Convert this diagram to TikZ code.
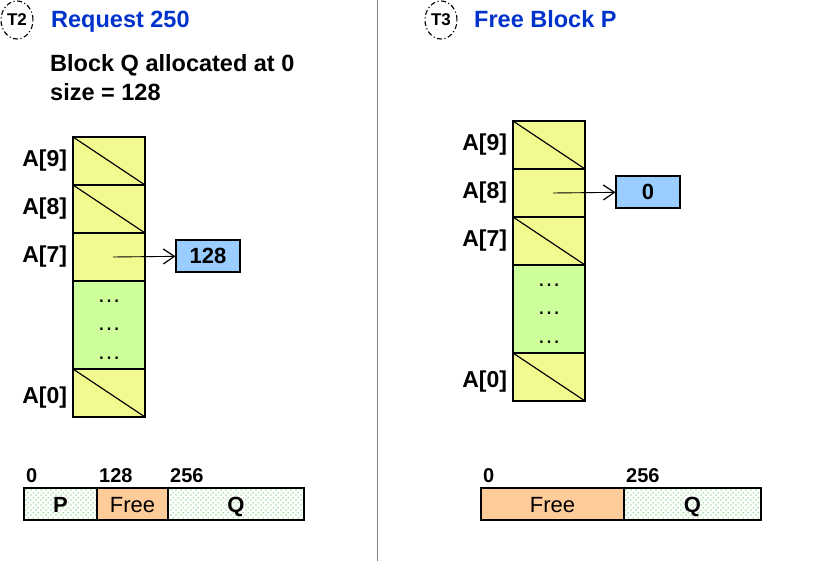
\documentclass[tikz,border=0pt]{standalone}
\usepackage{fontspec}
\setmainfont{Liberation Sans}
\usetikzlibrary{arrows.meta,matrix,positioning,patterns,shapes.geometric}
\definecolor{slotyellow}{HTML}{F2F98F}
\definecolor{gapgreen}{HTML}{CCFF99}
\definecolor{ptrblue}{HTML}{99CCFF}
\definecolor{holeorange}{HTML}{FFCC99}
\definecolor{titleblue}{HTML}{0033CC}
\definecolor{dotgreen}{HTML}{22BB22}
\pgfdeclarepatternformonly{sparse dots}{\pgfpointorigin}{\pgfqpoint{5pt}{5pt}}{\pgfqpoint{5pt}{5pt}}{
  \pgfpathcircle{\pgfqpoint{1.2pt}{1.2pt}}{0.7pt}
  \pgfpathcircle{\pgfqpoint{3.7pt}{3.7pt}}{0.7pt}
  \pgfusepath{fill}
}
\newcommand{\gapdots}{\vbox{\hbox{\strut…}\hbox{\strut…}\hbox{\strut…}}}
\tikzset{slot column/.style={
    matrix of nodes, nodes in empty cells,
    row sep=-1.5pt,
    nodes={draw, line width=1.5pt,
      fill=slotyellow,
      minimum width=#1,
      minimum height=48pt,
      anchor=center,
      inner sep=0pt
    },
  },
  slot column/.default=72pt,
  unused/.style={path picture={
      \draw[line width=1.2pt] (path picture bounding box.north west) -- (path picture bounding box.south east);}},
  gap/.style={fill=gapgreen, minimum height=88pt,
    font=\fontsize{24}{28.5}\selectfont},
  idx/.style={font=\bfseries\fontsize{23}{27}\selectfont, inner sep=0pt},
  ptr box/.style={draw, line width=1.2pt, fill=ptrblue,
    minimum width=64pt, minimum height=32pt, inner sep=0pt,
    font=\bfseries\fontsize{22}{26}\selectfont},
  ptr/.style={line width=0.9pt, -{Straight Barb[length=11pt,width=15pt,line width=1.2pt]}},
  blk/.style={draw, line width=1.2pt, minimum height=32pt,
    text height=17pt, text depth=0pt,
    inner sep=0pt, outer sep=0pt, font=\fontsize{22}{26}\selectfont},
  used blk/.style={blk, pattern=sparse dots, pattern color=dotgreen,
    font=\bfseries\fontsize{22}{26}\selectfont},
  hole blk/.style={blk, fill=holeorange},
  tick/.style={font=\bfseries\fontsize{20}{24}\selectfont, inner sep=0pt, anchor=base west},
  tag ring/.style={ellipse, draw, line width=1.1pt,
    dash pattern=on 5pt off 2.5pt on 1.2pt off 2.5pt,
    minimum width=32pt, minimum height=38pt, inner sep=0pt,
    font=\bfseries\fontsize{17}{20}\selectfont},
  heading/.style={font=\bfseries\fontsize{23.5}{28}\selectfont, text=titleblue,
    inner sep=0pt, anchor=base west},
  note/.style={font=\bfseries\fontsize{23.5}{28}\selectfont, inner sep=0pt, anchor=base west},
  divider/.style={draw=gray, line width=1pt}
}

\begin{document}
\begin{tikzpicture}[x=1pt, y=-1pt]
    \useasboundingbox (0,0) rectangle (825,561);

    \coordinate (splitTop) at (377,0);
    \coordinate (splitBot) at (377,561);
    \draw[divider] (splitTop) -- (splitBot);

    % T2
    \node[tag ring] (tagA) at (17,20) {T2};
    \node[heading] (headA) at (51,28) {Request 250};
    \node[note] (noteA) at (50,72) {Block Q allocated at 0};
    \node[note] (noteB) at (50,101) {size = 128};

    \matrix (lcol) [slot column] at (109,277) {
        |[unused]| \\
        |[unused]| \\
        \\
        |[gap]| \gapdots \\
        |[unused]| \\
    };
    \node[idx, left=5pt of lcol-1-1] (la9) {A[9]};
    \node[idx, left=5pt of lcol-2-1] (la8) {A[8]};
    \node[idx, left=5pt of lcol-3-1] (la7) {A[7]};
    \node[idx, left=5pt of lcol-5-1, yshift=-5pt] (la0) {A[0]};

    \node[ptr box] (lenA) at (208,256) {128};
    \draw[ptr] ([xshift=4pt]lcol-3-1.center) -- (lenA);

    \node[used blk, minimum width=73pt] (pblkA) at (60.5,504) {P};
    \node[hole blk, minimum width=71pt, right=0pt of pblkA] (holeA) {Free};
    \node[used blk, minimum width=136pt, right=0pt of holeA] (qblkA) {Q};
    \node[tick] at ([xshift=2pt,yshift=6pt]pblkA.north west) {0};
    \node[tick] at ([xshift=2pt,yshift=6pt]holeA.north west) {128};
    \node[tick] at ([xshift=2pt,yshift=6pt]qblkA.north west) {256};

    % T3
    \node[tag ring] (tagB) at (441,20) {T3};
    \node[heading] (headB) at (474,27.5) {Free Block P};

    \matrix (rcol) [slot column] at (549,261) {
        |[unused]| \\
        \\
        |[unused]| \\
        |[gap]| \gapdots \\
        |[unused]| \\
    };
    \node[idx, left=5pt of rcol-1-1] (ra9) {A[9]};
    \node[idx, left=5pt of rcol-2-1] (ra8) {A[8]};
    \node[idx, left=5pt of rcol-3-1] (ra7) {A[7]};
    \node[idx, left=5pt of rcol-5-1, yshift=-5pt] (ra0) {A[0]};

    \node[ptr box] (lenB) at (648,192) {0};
    \draw[ptr] ([xshift=4pt]rcol-2-1.center) -- (lenB);

    \node[hole blk, minimum width=143pt] (holeB) at (552.5,504) {Free};
    \node[used blk, minimum width=137pt, right=0pt of holeB] (qblkB) {Q};
    \node[tick] at ([xshift=2pt,yshift=6pt]holeB.north west) {0};
    \node[tick] at ([xshift=2pt,yshift=6pt]qblkB.north west) {256};
\end{tikzpicture}
\end{document}
